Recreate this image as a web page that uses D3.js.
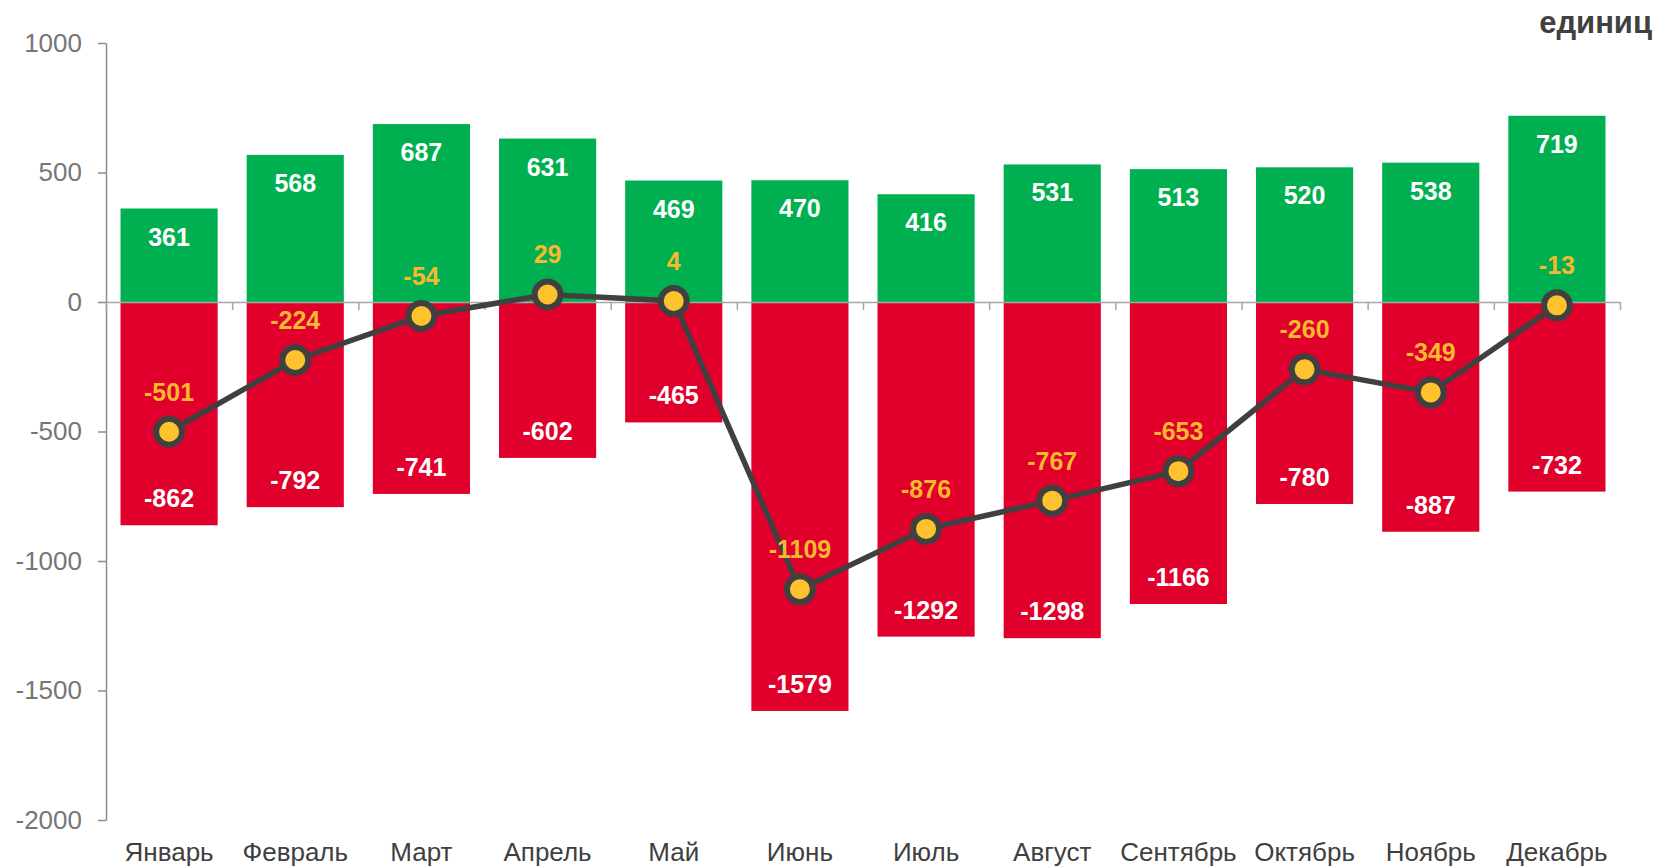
<!DOCTYPE html>
<html>
<head>
<meta charset="utf-8">
<script src="https://cdn.jsdelivr.net/npm/d3@7"></script>
<style>
  html, body { margin: 0; padding: 0; background: #fff; }
  svg { display: block; font-family: "Liberation Sans", Arial, sans-serif; }
</style>
</head>
<body>
<div id="chart"></div>
<script>
const months = ["Январь", "Февраль", "Март", "Апрель", "Май", "Июнь", "Июль", "Август", "Сентябрь", "Октябрь", "Ноябрь", "Декабрь"];
const incoming = [361, 568, 687, 631, 469, 470, 416, 531, 513, 520, 538, 719];
const outgoing = [-862, -792, -741, -602, -465, -1579, -1292, -1298, -1166, -780, -887, -732];
const balance = [-501, -224, -54, 29, 4, -1109, -876, -767, -653, -260, -349, -13];
const yTicks = [-2000, -1500, -1000, -500, 0, 500, 1000];
const unitLabel = "единиц";

const width = 1655;
const height = 866;

const svg = d3.select("#chart").append("svg")
  .attr("width", width)
  .attr("height", height);

const x = d3.scaleBand()
  .domain(months)
  .range([106, 1620])
  .paddingInner(0.23)
  .paddingOuter(0.115);

const xEdge = d3.scaleLinear().domain([0, months.length]).range([106, 1620]);

const y = d3.scaleLinear()
  .domain([-2000, 1000])
  .range([820, 43]);

const rows = months.map((m, i) => ({ m, pos: incoming[i], neg: outgoing[i], net: balance[i] }));
const cx = d => x(d.m) + x.bandwidth() / 2;

// Bars
svg.append("g").selectAll("rect")
  .data(rows)
  .join("rect")
  .attr("x", d => x(d.m))
  .attr("width", x.bandwidth())
  .attr("y", d => y(d.pos))
  .attr("height", d => y(0) - y(d.pos))
  .attr("fill", "#00b050");

svg.append("g").selectAll("rect")
  .data(rows)
  .join("rect")
  .attr("x", d => x(d.m))
  .attr("width", x.bandwidth())
  .attr("y", y(0))
  .attr("height", d => y(d.neg) - y(0))
  .attr("fill", "#e0002b");

// Y axis
svg.append("g")
  .attr("transform", `translate(${xEdge(0)},0)`)
  .call(d3.axisLeft(y).tickValues(yTicks).tickFormat(d => String(d)).tickSize(8).tickSizeOuter(0).tickPadding(16))
  .call(g => g.selectAll("line, path").attr("stroke", "#8c8c8c").attr("stroke-width", 1.5))
  .call(g => g.selectAll("text")
    .attr("font-family", "Liberation Sans, Arial, sans-serif")
    .attr("font-size", 26)
    .attr("fill", "#767676"));

// X axis (ticks between categories)
svg.append("g")
  .attr("transform", `translate(0,${y(0)})`)
  .call(d3.axisBottom(xEdge).tickValues(d3.range(0, months.length + 1)).tickFormat("").tickSize(8).tickSizeOuter(0))
  .call(g => g.selectAll("line, path").attr("stroke", "#a6a6a6").attr("stroke-width", 1.5));

// Category labels
svg.append("g").selectAll("text")
  .data(rows)
  .join("text")
  .attr("x", cx)
  .attr("y", 861)
  .attr("text-anchor", "middle")
  .attr("font-size", 26)
  .attr("fill", "#404040")
  .text(d => d.m);

// Bar value labels
svg.append("g").selectAll("text")
  .data(rows)
  .join("text")
  .attr("x", cx)
  .attr("y", d => y(d.pos) + 37)
  .attr("text-anchor", "middle")
  .attr("font-size", 25)
  .attr("font-weight", "bold")
  .attr("fill", "#fff")
  .text(d => d.pos);

svg.append("g").selectAll("text")
  .data(rows)
  .join("text")
  .attr("x", cx)
  .attr("y", d => y(d.neg) - 18)
  .attr("text-anchor", "middle")
  .attr("font-size", 25)
  .attr("font-weight", "bold")
  .attr("fill", "#fff")
  .text(d => d.neg);

// Balance line
const line = d3.line()
  .x(cx)
  .y(d => y(d.net));

svg.append("path")
  .datum(rows)
  .attr("d", line)
  .attr("fill", "none")
  .attr("stroke", "#404040")
  .attr("stroke-width", 5.5);

svg.append("g").selectAll("circle")
  .data(rows)
  .join("circle")
  .attr("cx", cx)
  .attr("cy", d => y(d.net))
  .attr("r", 13)
  .attr("fill", "#fec22f")
  .attr("stroke", "#404040")
  .attr("stroke-width", 6);

svg.append("g").selectAll("text")
  .data(rows)
  .join("text")
  .attr("x", cx)
  .attr("y", d => y(d.net) - 31)
  .attr("text-anchor", "middle")
  .attr("font-size", 25)
  .attr("font-weight", "bold")
  .attr("fill", "#f7b92e")
  .text(d => d.net);

// Unit label
svg.append("text")
  .attr("x", 1652)
  .attr("y", 33)
  .attr("text-anchor", "end")
  .attr("font-size", 31)
  .attr("font-weight", "bold")
  .attr("fill", "#404040")
  .text(unitLabel);
</script>
</body>
</html>
